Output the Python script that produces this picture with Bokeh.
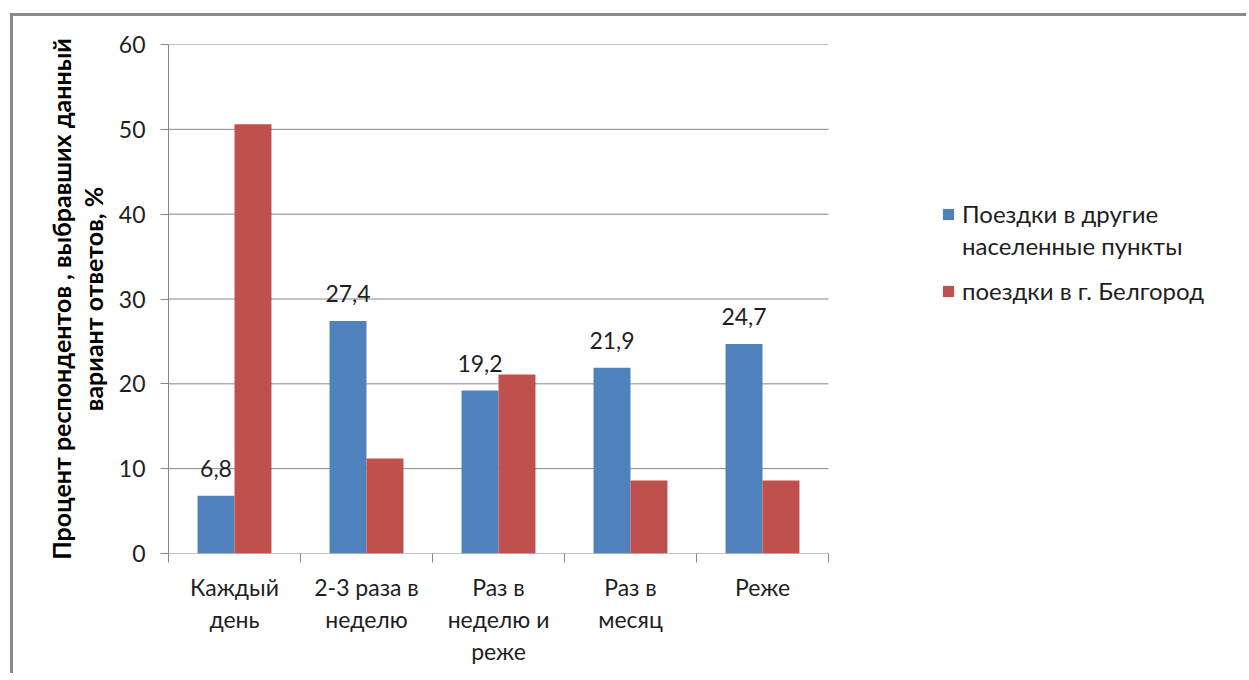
from bokeh.plotting import figure
from bokeh.models import Range1d, FixedTicker, Legend, LegendItem, LabelSet, ColumnDataSource
from bokeh.core.properties import value
from bokeh.embed import file_html
from bokeh.resources import INLINE

categories = ["Каждый\nдень", "2-3 раза в\nнеделю", "Раз в\nнеделю и\nреже", "Раз в\nмесяц", "Реже"]
other_places = [6.8, 27.4, 19.2, 21.9, 24.7]
belgorod = [50.6, 11.2, 21.1, 8.6, 8.6]
y_ticks = [0, 10, 20, 30, 40, 50, 60]
series_names = ["Поездки в другие", "населенные пункты", "поездки в г. Белгород"]
y_title = "Процент респондентов , выбравших данный\nвариант ответов, %"

BLUE = "#4F81BD"
RED = "#C0504D"
GRID = "#868686"
TXT = "#1e1e1e"
FONT = "Lato"
FS = "23px"
LH = 1.15

n = len(categories)
CAT_PX = 132          # pixel width of one category slot
PLOT_PX = CAT_PX * n  # pixel width of the bar area
FRAME_PX = 1078       # frame extends to the right so the legend can sit inside it

centers = [i + 0.5 for i in range(n)]
src = ColumnDataSource(dict(
    xb=[c - 0.14 for c in centers],
    xr=[c + 0.14 for c in centers],
    blue=other_places,
    red=belgorod,
    lbl=[("%.1f" % v).replace(".", ",") for v in other_places],
))

p = figure(frame_width=FRAME_PX, frame_height=509,
           x_range=Range1d(0, n * FRAME_PX / PLOT_PX), y_range=Range1d(0, 60),
           output_backend="svg", toolbar_location=None,
           min_border_left=155, min_border_right=0, min_border_top=28, min_border_bottom=120)
p.styles = {"margin-left": "10px", "margin-top": "13px",
            "border-left": "3px solid #8a8a8a", "border-top": "3px solid #8a8a8a"}
p.outline_line_color = None
p.background_fill_color = "white"
p.border_fill_color = "white"

# horizontal grid lines limited to the bar area
p.segment(x0=[0] * len(y_ticks), x1=[n] * len(y_ticks), y0=y_ticks, y1=y_ticks,
          line_color=GRID, line_width=1)

rb = p.vbar(x="xb", top="blue", width=0.28, source=src, fill_color=BLUE, line_color=None)
rr = p.vbar(x="xr", top="red", width=0.28, source=src, fill_color=RED, line_color=None)
# invisible renderer used only for the second line of the first legend entry
rd = p.vbar(x=[], top=[], width=0.28, fill_alpha=0, line_alpha=0)

labels = LabelSet(x="xb", y="blue", text="lbl", source=src, text_align="center",
                  text_baseline="bottom", y_offset=19, text_font=value(FONT),
                  text_font_size=value(FS), text_color=value(TXT))
p.add_layout(labels)

p.xgrid.visible = False
p.ygrid.visible = False

p.yaxis.ticker = FixedTicker(ticks=y_ticks, minor_ticks=[])
p.yaxis.major_tick_in = 0
p.yaxis.major_tick_out = 8
p.yaxis.major_tick_line_color = GRID
p.yaxis.minor_tick_line_color = None
p.yaxis.axis_line_color = GRID
p.yaxis.major_label_text_font = FONT
p.yaxis.major_label_text_font_size = FS
p.yaxis.major_label_text_color = TXT
p.yaxis.major_label_standoff = 15
p.yaxis.axis_label = y_title
p.yaxis.axis_label_text_font = FONT
p.yaxis.axis_label_text_font_style = "bold"
p.yaxis.axis_label_text_font_size = "25px"
p.yaxis.axis_label_text_color = "#000000"
p.yaxis.axis_label_text_line_height = 1.05
p.yaxis.axis_label_standoff = 8

p.xaxis.ticker = FixedTicker(ticks=centers, minor_ticks=list(range(n + 1)))
p.xaxis.major_label_overrides = {c: lab for c, lab in zip(centers, categories)}
p.xaxis.major_tick_in = 0
p.xaxis.major_tick_out = 0
p.xaxis.major_tick_line_color = None
p.xaxis.minor_tick_in = 0
p.xaxis.minor_tick_out = 9
p.xaxis.minor_tick_line_color = GRID
p.xaxis.axis_line_color = None
p.xaxis.major_label_text_font = FONT
p.xaxis.major_label_text_font_size = FS
p.xaxis.major_label_text_color = TXT
p.xaxis.major_label_text_line_height = LH
p.xaxis.major_label_standoff = 10


def make_legend(items, loc, spacing):
    lg = Legend(items=items, location=loc)
    lg.glyph_width = 14
    lg.glyph_height = 14
    lg.label_standoff = 7
    lg.spacing = spacing
    lg.padding = 0
    lg.margin = 0
    lg.border_line_color = None
    lg.background_fill_alpha = 0
    lg.label_text_font = FONT
    lg.label_text_font_size = "24px"
    lg.label_text_color = TXT
    return lg


legend_a = make_legend([LegendItem(label=series_names[0], renderers=[rb]),
                        LegendItem(label=series_names[1], renderers=[rd])], (773, 293), 3)
legend_b = make_legend([LegendItem(label=series_names[2], renderers=[rr])], (773, 248), 0)
p.add_layout(legend_a)
p.add_layout(legend_b)

open("out.html", "w").write(file_html(p, INLINE))
